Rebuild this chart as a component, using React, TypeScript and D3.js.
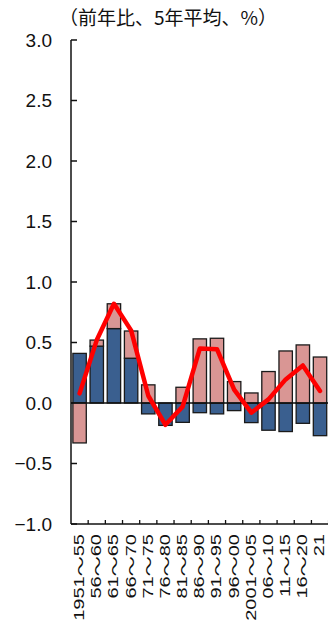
import React from "react";
import * as d3 from "d3";

const categories = ["1951～55", "56～60", "61～65", "66～70", "71～75", "76～80", "81～85", "86～90", "91～95", "96～00", "2001～05", "06～10", "11～15", "16～20", "21"];
const blueValues = [0.41, 0.47, 0.615, 0.37, -0.09, -0.185, -0.16, -0.08, -0.09, -0.063, -0.162, -0.225, -0.236, -0.168, -0.27];
const pinkValues = [-0.33, 0.05, 0.205, 0.225, 0.15, 0.0, 0.13, 0.53, 0.535, 0.177, 0.083, 0.26, 0.43, 0.48, 0.38];
const lineValues = [0.08, 0.52, 0.82, 0.6, 0.06, -0.18, -0.03, 0.45, 0.445, 0.11, -0.08, 0.03, 0.195, 0.31, 0.1];
const yTicks = [3.0, 2.5, 2.0, 1.5, 1.0, 0.5, 0.0, -0.5, -1.0];
const title = "（前年比、5年平均、%）";

const W = 328;
const H = 625;
const left = 71;
const right = 328.6;
const top = 40;
const bottom = 524;

export default function App() {
  const x = d3.scaleBand<string>().domain(categories).range([left, right]).paddingInner(0.22).paddingOuter(0.11);
  const y = d3.scaleLinear().domain([-1, 3]).range([bottom, top]);
  const step = x.step();
  const bw = x.bandwidth();

  const segs: { x: number; y0: number; y1: number; color: string }[] = [];
  categories.forEach((c, i) => {
    let pos = 0;
    let neg = 0;
    const series = [
      { v: blueValues[i], color: "#3A5F8F" },
      { v: pinkValues[i], color: "#D99694" },
    ];
    series.forEach((s) => {
      if (s.v === 0) return;
      if (s.v > 0) {
        segs.push({ x: x(c)!, y0: pos, y1: pos + s.v, color: s.color });
        pos += s.v;
      } else {
        segs.push({ x: x(c)!, y0: neg, y1: neg + s.v, color: s.color });
        neg += s.v;
      }
    });
  });

  const line = d3
    .line<number>()
    .x((_, i) => x(categories[i])! + bw / 2)
    .y((d) => y(d));

  const fontNum = "'Liberation Sans', Arial, sans-serif";
  const fontCjk = "'Noto Sans CJK JP', sans-serif";

  return (
    <svg width={W} height={H} style={{ position: "fixed", left: 0, top: 0, background: "#fff" }}>
      <text x={59} y={25} fontFamily={fontCjk} fontSize={19} fill="#111">
        {title}
      </text>
      {yTicks.map((t) => (
        <g key={t}>
          <text x={52} y={y(t)} dy="0.36em" textAnchor="end" fontFamily={fontNum} fontSize={19} fill="#111">
            {t < 0 ? "−" + Math.abs(t).toFixed(1) : t.toFixed(1)}
          </text>
          <line x1={left} x2={left + 6} y1={y(t)} y2={y(t)} stroke="#111" strokeWidth={1.5} />
        </g>
      ))}
      {segs.map((s, i) => (
        <rect
          key={i}
          x={s.x}
          y={y(Math.max(s.y0, s.y1))}
          width={bw}
          height={Math.abs(y(s.y0) - y(s.y1))}
          fill={s.color}
          stroke="#1a1a1a"
          strokeWidth={1.3}
        />
      ))}
      <line x1={left} x2={W} y1={y(0)} y2={y(0)} stroke="#111" strokeWidth={1.5} />
      <path d={line(lineValues) || ""} fill="none" stroke="#FF0000" strokeWidth={4.5} strokeLinejoin="round" strokeLinecap="round" />
      <line x1={left} x2={left} y1={top} y2={bottom} stroke="#111" strokeWidth={1.5} />
      <line x1={left} x2={W} y1={bottom} y2={bottom} stroke="#111" strokeWidth={1.5} />
      {categories.map((c, i) => (
        <line key={c} x1={left + (i + 1) * step} x2={left + (i + 1) * step} y1={bottom} y2={bottom - 4} stroke="#111" strokeWidth={1.3} />
      ))}
      {categories.map((c) => {
        const parts = c.split("～");
        return (
          <text
            key={c}
            transform={`translate(${x(c)! + bw / 2 - 0.5},534) rotate(-90) scale(1.38,1)`}
            textAnchor="end"
            dominantBaseline="central"
            fontFamily={fontNum}
            fontSize={14.5}
            fill="#111"
          >
            {parts.length > 1 ? (
              <>
                <tspan>{parts[0]}</tspan>
                <tspan fontFamily={fontCjk}>～</tspan>
                <tspan>{parts[1]}</tspan>
              </>
            ) : (
              c
            )}
          </text>
        );
      })}
    </svg>
  );
}
